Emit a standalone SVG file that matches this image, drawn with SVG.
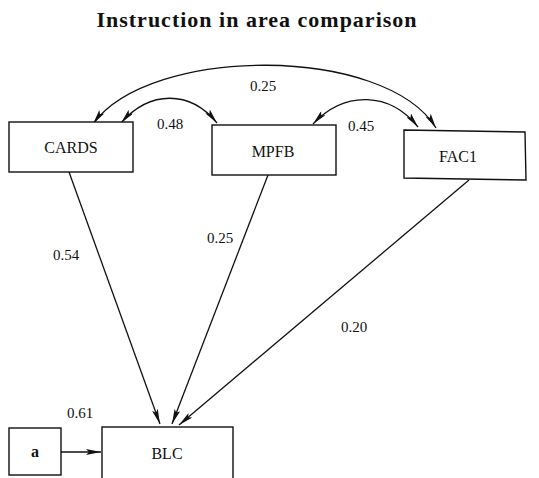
<svg xmlns="http://www.w3.org/2000/svg" width="539" height="478" viewBox="0 0 539 478">
  <style>
    .box { fill: #fff; stroke: #111; stroke-width: 1.4; }
    .lbl { font-family: "Liberation Serif", "DejaVu Serif", serif; font-size: 16px; fill: #111; text-anchor: middle; }
    .num { font-family: "Liberation Serif", "DejaVu Serif", serif; font-size: 15px; fill: #111; text-anchor: middle; }
    .edge { fill: none; stroke: #111; stroke-width: 1.3; }
    .title { font-family: "Liberation Serif", "DejaVu Serif", serif; font-size: 22px; font-weight: bold; letter-spacing: 1px; fill: #111; text-anchor: middle; }
  </style>
  <defs>
    <marker id="arr" viewBox="0 0 15 6" refX="15" refY="3" markerWidth="15" markerHeight="6" markerUnits="userSpaceOnUse" orient="auto-start-reverse">
      <path d="M0,0 L15,3 L0,6 L3,3 Z" fill="#111"/>
    </marker>
  </defs>

  <rect width="539" height="478" fill="#fff"/>

  <text class="title" x="257" y="27">Instruction in area comparison</text>

  <g id="connectors">
    <!-- correlations between predictors -->
    <path class="edge" d="M93,124 C150,45 385,45 436,128" marker-start="url(#arr)" marker-end="url(#arr)"/>
    <path class="edge" d="M121,123 C150,90 190,90 217,123" marker-start="url(#arr)" marker-end="url(#arr)"/>
    <path class="edge" d="M313,124 C345,90 390,92 418,127" marker-start="url(#arr)" marker-end="url(#arr)"/>
    <!-- paths into BLC -->
    <path class="edge" d="M69,172 L160,424" marker-end="url(#arr)"/>
    <path class="edge" d="M268,175 L172,424" marker-end="url(#arr)"/>
    <path class="edge" d="M469,180 L179,425" marker-end="url(#arr)"/>
    <path class="edge" d="M61,452 L101,452" marker-end="url(#arr)"/>

    <text class="num" x="263" y="91">0.25</text>
    <text class="num" x="170" y="129">0.48</text>
    <text class="num" x="361" y="131">0.45</text>
    <text class="num" x="66" y="260">0.54</text>
    <text class="num" x="220" y="243">0.25</text>
    <text class="num" x="354" y="332">0.20</text>
    <text class="num" x="80" y="418">0.61</text>
  </g>

  <g id="cards">
    <rect class="box" x="9" y="122" width="124" height="50"/>
    <text class="lbl" x="71" y="153">CARDS</text>
  </g>
  <g id="mpfb">
    <rect class="box" x="212" y="125" width="124" height="50"/>
    <text class="lbl" x="273" y="157">MPFB</text>
  </g>
  <g id="fac1">
    <path class="box" d="M404,130 L525,132 L526,180 L404,178 Z"/>
    <text class="lbl" x="458" y="162">FAC1</text>
  </g>
  <g id="a">
    <rect class="box" x="9" y="428" width="52" height="47"/>
    <text class="lbl" x="35" y="457" font-weight="bold">a</text>
  </g>
  <g id="blc">
    <rect class="box" x="102" y="427" width="131" height="52"/>
    <text class="lbl" x="167" y="459">BLC</text>
  </g>
</svg>
